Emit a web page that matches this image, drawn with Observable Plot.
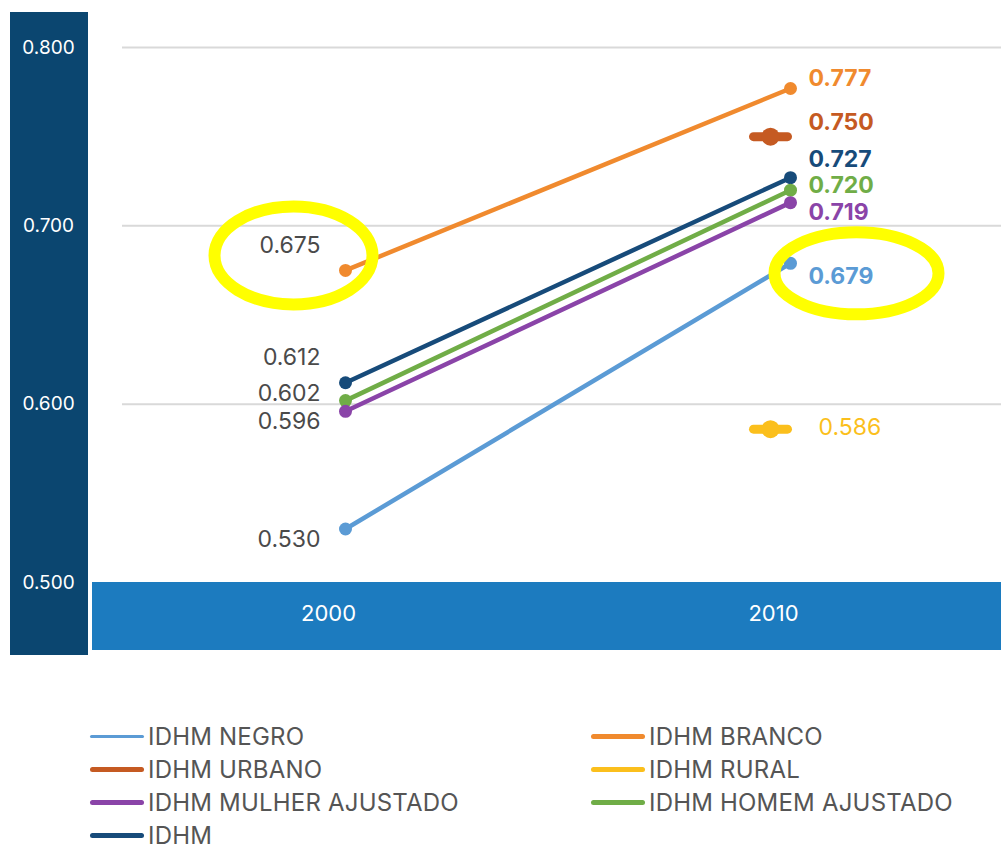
<!DOCTYPE html>
<html>
<head>
<meta charset="utf-8">
<script src="https://cdn.jsdelivr.net/npm/d3@7"></script>
<script src="https://cdn.jsdelivr.net/npm/@observablehq/plot@0.6"></script>
<style>
  html, body { margin: 0; padding: 0; background: #fff; }
  #wrap { position: relative; width: 1001px; height: 848px; overflow: hidden; font-family: Inter, "Noto Sans", sans-serif; }
  .bg { position: absolute; }
  #chart { position: absolute; left: 0; top: 0; z-index: 2; }
  .leg { position: absolute; display: flex; align-items: center; font-size: 24px; color: #555; white-space: nowrap; letter-spacing: 0.2px; z-index: 3; }
  .leg .sw { width: 54px; border-radius: 3px; margin-right: 4px; }
</style>
</head>
<body>
<div id="wrap">
  <div class="bg" style="left:10px;top:12px;width:78px;height:643px;background:#0b4670;"></div>
  <div class="bg" style="left:92px;top:582px;width:909px;height:68px;background:#1c7bbf;"></div>
</div>
<script>
// ---- data ----
const years = [2000, 2010];
const seriesNames = ["IDHM NEGRO", "IDHM BRANCO", "IDHM URBANO", "IDHM RURAL", "IDHM MULHER AJUSTADO", "IDHM HOMEM AJUSTADO", "IDHM"];
const negro  = [0.530, 0.679];
const branco = [0.675, 0.777];
const urbano = [null, 0.750];
const rural  = [null, 0.586];
const mulher = [0.596, 0.713];
const homem  = [0.602, 0.720];
const idhm   = [0.612, 0.727];
// printed labels (as written on the chart)
const negroLabels  = ["0.530", "0.679"];
const brancoLabels = ["0.675", "0.777"];
const urbanoLabels = [null, "0.750"];
const ruralLabels  = [null, "0.586"];
const mulherLabels = ["0.596", "0.719"];
const homemLabels  = ["0.602", "0.720"];
const idhmLabels   = ["0.612", "0.727"];
const yTicks = [0.500, 0.600, 0.700, 0.800];

// ---- styling ----
const colors = {
  "IDHM NEGRO": "#5b9bd5", "IDHM BRANCO": "#f08a2e", "IDHM URBANO": "#c55a22",
  "IDHM RURAL": "#fbbf1c", "IDHM MULHER AJUSTADO": "#8a44a8", "IDHM HOMEM AJUSTADO": "#70ad47", "IDHM": "#174b7a"
};
const valuesBy = {
  "IDHM NEGRO": [negro, negroLabels], "IDHM BRANCO": [branco, brancoLabels], "IDHM URBANO": [urbano, urbanoLabels],
  "IDHM RURAL": [rural, ruralLabels], "IDHM MULHER AJUSTADO": [mulher, mulherLabels],
  "IDHM HOMEM AJUSTADO": [homem, homemLabels], "IDHM": [idhm, idhmLabels]
};
// label offsets (layout only)
const dy2000 = {"IDHM NEGRO": 11, "IDHM BRANCO": -25, "IDHM MULHER AJUSTADO": 10, "IDHM HOMEM AJUSTADO": -7, "IDHM": -25};
const dy2010 = {"IDHM NEGRO": 13, "IDHM BRANCO": -10, "IDHM URBANO": -14, "IDHM RURAL": -2, "IDHM MULHER AJUSTADO": 10, "IDHM HOMEM AJUSTADO": -5, "IDHM": -18};

const rowsOf = name => {
  const [vals, labs] = valuesBy[name];
  return years.map((year, i) => ({name, year, value: vals[i], label: labs[i]})).filter(d => d.value != null);
};

const dash = { draw(ctx, size) { const r = Math.sqrt(size / Math.PI); ctx.moveTo(-r, 0); ctx.lineTo(r, 0); } };
const ellipse = ratio => ({
  draw(ctx, size) {
    const rx = Math.sqrt(size / Math.PI), ry = rx * ratio, k = 0.5523;
    ctx.moveTo(rx, 0);
    ctx.bezierCurveTo(rx, ry * k, rx * k, ry, 0, ry);
    ctx.bezierCurveTo(-rx * k, ry, -rx, ry * k, -rx, 0);
    ctx.bezierCurveTo(-rx, -ry * k, -rx * k, -ry, 0, -ry);
    ctx.bezierCurveTo(rx * k, -ry, rx, -ry * k, rx, 0);
    ctx.closePath();
  }
});

const fmt = d3.format(".3f");
const marks = [
  Plot.ruleY(yTicks.filter(t => t > 0.5), {stroke: "#d9d9d9", strokeWidth: 2}),
  Plot.text(yTicks, {y: d => d, text: d => fmt(d), frameAnchor: "left", dx: -74, fill: "white", fontSize: 19, textAnchor: "middle"}),
  Plot.text(years, {x: d => d, y: () => 0.5, text: d => String(d), dx: -17, dy: 31, fill: "white", fontSize: 22})
];

const lineOrder = ["IDHM NEGRO", "IDHM BRANCO", "IDHM", "IDHM HOMEM AJUSTADO", "IDHM MULHER AJUSTADO"];
for (const name of lineOrder) {
  const rows = rowsOf(name);
  marks.push(Plot.line(rows, {x: "year", y: "value", stroke: colors[name], strokeWidth: 4.5}));
  marks.push(Plot.dot(rows, {x: "year", y: "value", r: 6.5, fill: colors[name]}));
}
for (const name of ["IDHM URBANO", "IDHM RURAL"]) {
  const rows = rowsOf(name);
  marks.push(Plot.dot(rows, {x: "year", y: "value", dx: -20, r: 17, symbol: dash, fill: "none", stroke: colors[name], strokeWidth: 9, strokeLinecap: "round"}));
  marks.push(Plot.dot(rows, {x: "year", y: "value", dx: -20, r: 9, fill: colors[name]}));
}
// value labels
for (const name of seriesNames) {
  for (const row of rowsOf(name)) {
    if (row.year === 2000) {
      marks.push(Plot.text([row], {x: "year", y: "value", text: "label", dx: -25, dy: dy2000[name], textAnchor: "end", fill: "#4a4a4a", fontSize: 23}));
    } else {
      const rural = name === "IDHM RURAL";
      marks.push(Plot.text([row], {x: "year", y: "value", text: "label", dx: rural ? 28 : 18, dy: dy2010[name], textAnchor: "start",
        fill: colors[name], fontSize: 23, fontWeight: rural ? 400 : 700}));
    }
  }
}
// yellow highlight annotations
marks.push(Plot.dot(rowsOf("IDHM BRANCO").filter(d => d.year === 2000), {x: "year", y: "value", dx: -52, dy: -15, r: 79, symbol: ellipse(0.62), fill: "none", stroke: "#ffff00", strokeWidth: 12}));
marks.push(Plot.dot(rowsOf("IDHM NEGRO").filter(d => d.year === 2010), {x: "year", y: "value", dx: 66, dy: 10, r: 82, symbol: ellipse(0.5), fill: "none", stroke: "#ffff00", strokeWidth: 12}));

const chart = Plot.plot({
  width: 1001, height: 670,
  marginLeft: 122, marginRight: 0, marginTop: 0, marginBottom: 0,
  style: {background: "transparent", fontFamily: "Inter, 'Noto Sans', sans-serif"},
  x: {type: "linear", domain: [2000, 2010], range: [345, 790], axis: null},
  y: {domain: [0.5, 0.8], range: [582, 47], axis: null},
  marks
});
chart.id = "chart";
const wrap = document.getElementById("wrap");
wrap.appendChild(chart);

// legend
const legendLayout = [
  ["IDHM NEGRO", 90, 736, 3], ["IDHM URBANO", 90, 769, 5], ["IDHM MULHER AJUSTADO", 90, 802, 5], ["IDHM", 90, 835, 5],
  ["IDHM BRANCO", 591, 736, 5], ["IDHM RURAL", 591, 769, 5], ["IDHM HOMEM AJUSTADO", 591, 802, 5]
];
for (const [name, x, y, h] of legendLayout) {
  const item = document.createElement("div");
  item.className = "leg";
  item.style.left = x + "px";
  item.style.top = (y - 16) + "px";
  item.style.height = "32px";
  const sw = document.createElement("div");
  sw.className = "sw";
  sw.style.height = h + "px";
  sw.style.background = colors[name];
  item.appendChild(sw);
  const t = document.createElement("span");
  t.textContent = name;
  item.appendChild(t);
  wrap.appendChild(item);
}
</script>
</body>
</html>
